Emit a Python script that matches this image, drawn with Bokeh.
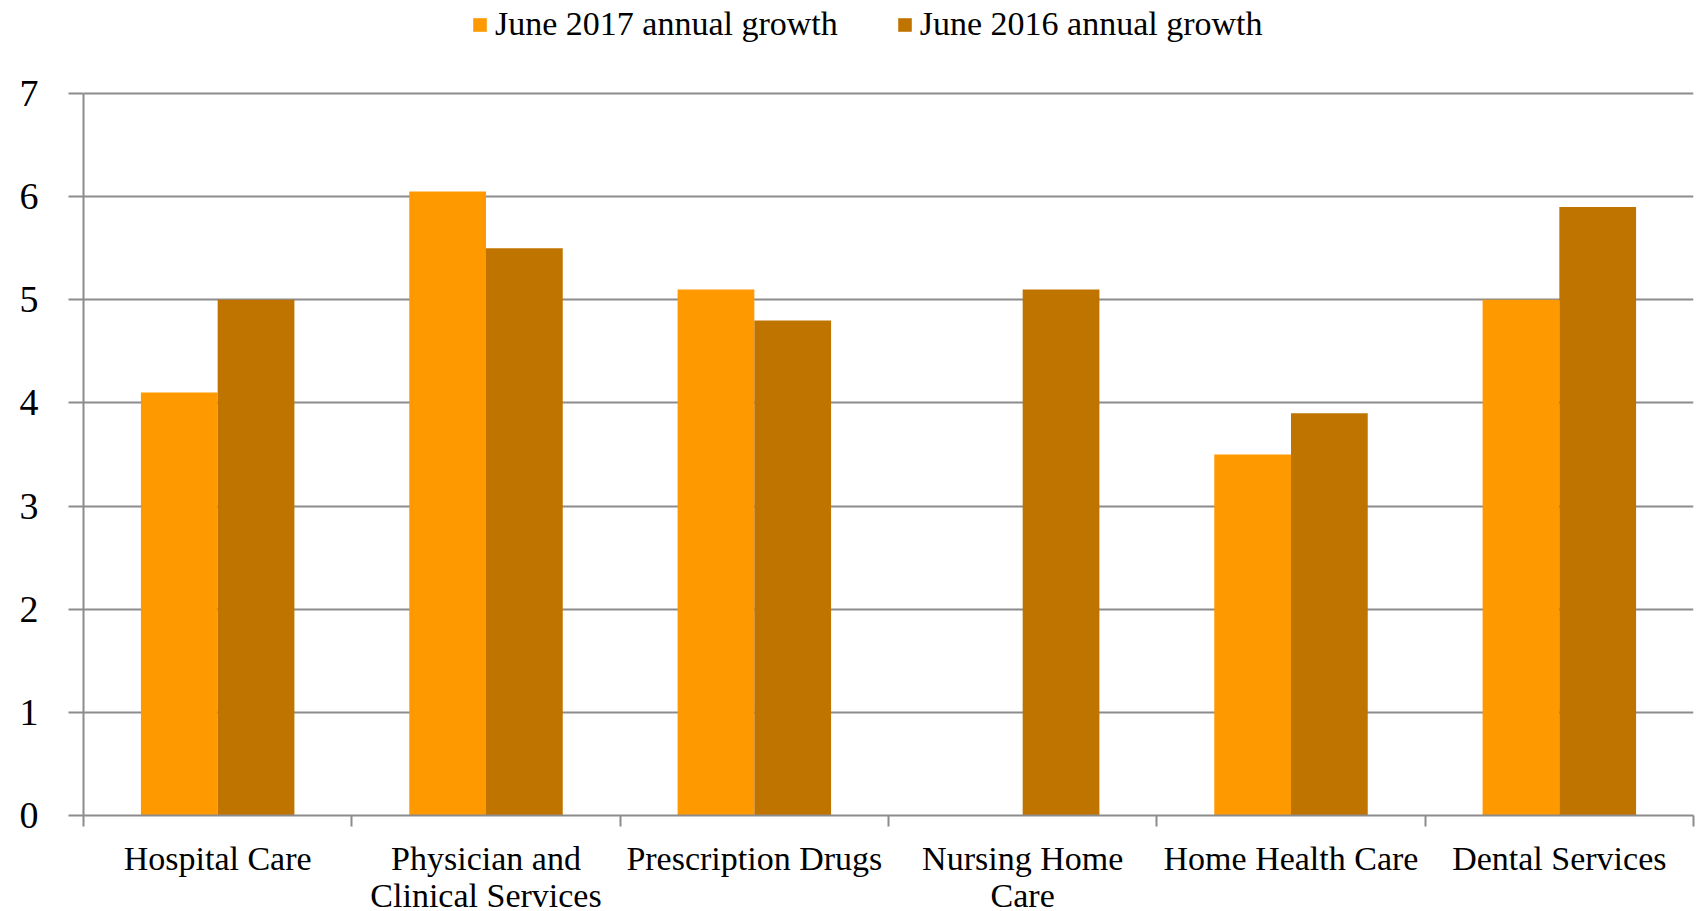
from bokeh.plotting import figure
from bokeh.models import ColumnDataSource, FixedTicker, Range1d, Legend, LegendItem
from bokeh.embed import file_html
from bokeh.resources import INLINE

categories = ["Hospital Care", "Physician and\nClinical Services", "Prescription Drugs",
              "Nursing Home\nCare", "Home Health Care", "Dental Services"]
growth_2017 = [4.1, 6.05, 5.1, 0.0, 3.5, 5.0]
growth_2016 = [5.0, 5.5, 4.8, 5.1, 3.9, 5.9]
y_ticks = [0, 1, 2, 3, 4, 5, 6, 7]

FONT = "Liberation Serif"
C2017 = "#FF9900"
C2016 = "#C07400"
GRID = "#8C8C8C"

FRAME_H = 815        # frame reaches the top of the page so the legend can sit inside it
PLOT_H = 722         # pixel height of the 0..7 value span
y_max = 7
y_top = y_max * FRAME_H / PLOT_H

idx = list(range(len(categories)))
bw = 0.286
src = ColumnDataSource(dict(
    x17=[i + 0.5 - bw / 2 for i in idx],
    x16=[i + 0.5 + bw / 2 for i in idx],
    g17=growth_2017,
    g16=growth_2016,
))

p = figure(frame_width=1610, frame_height=FRAME_H, output_backend="svg", toolbar_location=None,
           x_range=Range1d(0, len(categories)), y_range=Range1d(0, y_top),
           min_border_left=83, min_border_right=3, min_border_top=0, min_border_bottom=0)
p.outline_line_color = None
p.background_fill_color = "white"
p.border_fill_color = "white"

r17 = p.vbar(x="x17", top="g17", width=bw, source=src, fill_color=C2017, line_color=None)
r16 = p.vbar(x="x16", top="g16", width=bw, source=src, fill_color=C2016, line_color=None)

# x axis
p.xaxis.ticker = FixedTicker(ticks=[i + 0.5 for i in idx], minor_ticks=list(range(len(categories) + 1)))
p.xaxis.major_label_overrides = {i + 0.5: c for i, c in zip(idx, categories)}
p.xaxis.major_tick_out = 0
p.xaxis.major_tick_in = 0
p.xaxis.minor_tick_out = 11
p.xaxis.minor_tick_in = 0
p.xaxis.minor_tick_line_color = GRID
p.xaxis.minor_tick_line_width = 2
p.xaxis.axis_line_color = GRID
p.xaxis.axis_line_width = 2
p.xaxis.major_label_text_font = FONT
p.xaxis.major_label_text_font_size = "34px"
p.xaxis.major_label_text_line_height = 1.0
p.xaxis.major_label_text_color = "black"
p.xaxis.major_label_standoff = 13
p.xgrid.visible = False

# y axis
p.yaxis.ticker = FixedTicker(ticks=y_ticks, minor_ticks=[])
p.yaxis.bounds = (0, y_max)
p.yaxis.major_tick_out = 15
p.yaxis.major_tick_in = 0
p.yaxis.major_tick_line_color = GRID
p.yaxis.major_tick_line_width = 2
p.yaxis.axis_line_color = GRID
p.yaxis.axis_line_width = 2
p.yaxis.major_label_text_font = FONT
p.yaxis.major_label_text_font_size = "38px"
p.yaxis.major_label_text_color = "black"
p.yaxis.major_label_standoff = 30
p.ygrid.grid_line_color = GRID
p.ygrid.grid_line_width = 2
p.ygrid.level = "underlay"

legend = Legend(items=[LegendItem(label="June 2017 annual growth", renderers=[r17]),
                       LegendItem(label="June 2016 annual growth", renderers=[r16])],
                location=(388, FRAME_H - 43), orientation="horizontal")
legend.glyph_width = 17
legend.glyph_height = 17
legend.label_standoff = 7
legend.spacing = 58
legend.padding = 0
legend.margin = 0
legend.border_line_color = None
legend.background_fill_alpha = 0
legend.label_text_font = FONT
legend.label_text_font_size = "34px"
legend.label_text_color = "black"
p.add_layout(legend, "center")

open("out.html", "w").write(file_html(p, INLINE))
